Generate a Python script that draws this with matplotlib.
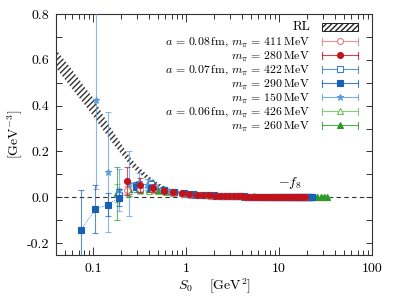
import matplotlib
matplotlib.use("Agg")
import matplotlib.pyplot as plt
from matplotlib.lines import Line2D
from matplotlib.patches import Rectangle
from matplotlib.colors import to_rgba
from matplotlib.ticker import FixedLocator, FuncFormatter, LogLocator, NullFormatter

plt.rcParams['font.family'] = 'serif'
plt.rcParams['font.serif'] = ['cmr10', 'DejaVu Serif']
plt.rcParams['mathtext.fontset'] = 'cm'
plt.rcParams['axes.unicode_minus'] = False
plt.rcParams['axes.formatter.use_mathtext'] = True
plt.rcParams['hatch.linewidth'] = 1.0

# ---------------- data ----------------
# RL band
x_rl = [0.04, 0.06, 0.08, 0.1, 0.13, 0.16, 0.2, 0.25, 0.3, 0.4, 0.5, 0.7, 1.0, 1.5, 2.0, 3.0, 5.0]
rl_hi = [0.645, 0.555, 0.485, 0.435, 0.355, 0.295, 0.235, 0.175, 0.138, 0.092, 0.062, 0.034, 0.018, 0.010, 0.006, 0.003, 0.001]
rl_lo = [0.565, 0.472, 0.408, 0.355, 0.29, 0.24, 0.19, 0.14, 0.11, 0.07, 0.045, 0.024, 0.012, 0.006, 0.003, 0.001, 0.0]

# a = 0.08 fm ensembles
x_080 = [0.23, 0.32, 0.44, 0.58, 0.73, 0.90, 1.09, 1.30, 1.52, 1.77, 2.03, 2.31, 2.60, 2.92,
         3.25, 3.60, 3.97, 4.36, 4.76, 5.19, 5.63, 6.09, 6.57, 7.06, 7.57, 8.11, 8.66, 9.22,
         9.81, 10.4, 11.0, 11.7, 12.3, 13.0, 13.7, 14.4, 15.1, 15.9, 16.7, 17.4, 18.2, 19.1]
y_411 = [0.03, 0.035, 0.033, 0.026, 0.02, 0.016, 0.012, 0.010, 0.0085, 0.0075,
         0.0065, 0.0058, 0.0052, 0.0047, 0.0042, 0.0038, 0.0034, 0.0031, 0.0028, 0.0026,
         0.0024, 0.0022, 0.002, 0.0019, 0.0018, 0.0017, 0.0016, 0.0015, 0.0014, 0.0013,
         0.0012, 0.0012, 0.0011, 0.0011, 0.001, 0.001, 0.0009, 0.0009, 0.0009, 0.0008, 0.0008, 0.0008]
e_411 = [0.02, 0.012, 0.008, 0.006, 0.004, 0.003, 0.003, 0.002, 0.002, 0.002,
         0.001, 0.001, 0.001, 0.001, 0.001, 0.001, 0.001, 0.001, 0.001, 0.001,
         0.001, 0.001, 0.001, 0.001, 0.001, 0.001, 0.001, 0.001, 0.001, 0.001,
         0.001, 0.001, 0.001, 0.001, 0.001, 0.001, 0.001, 0.001, 0.001, 0.001, 0.001, 0.001]
y_280 = [0.072, 0.054, 0.040, 0.029, 0.022, 0.017, 0.013, 0.011, 0.009, 0.008,
         0.007, 0.006, 0.0055, 0.005, 0.0045, 0.004, 0.0036, 0.0033, 0.003, 0.0028,
         0.0026, 0.0024, 0.0022, 0.002, 0.0019, 0.0018, 0.0017, 0.0016, 0.0015, 0.0014,
         0.0013, 0.0012, 0.0012, 0.0011, 0.0011, 0.001, 0.001, 0.0009, 0.0009, 0.0009, 0.0008, 0.0008]
e_280 = [0.062, 0.03, 0.018, 0.012, 0.008, 0.006, 0.004, 0.003, 0.003, 0.002,
         0.002, 0.002, 0.001, 0.001, 0.001, 0.001, 0.001, 0.001, 0.001, 0.001,
         0.001, 0.001, 0.001, 0.001, 0.001, 0.001, 0.001, 0.001, 0.001, 0.001,
         0.001, 0.001, 0.001, 0.001, 0.001, 0.001, 0.001, 0.001, 0.001, 0.001, 0.001, 0.001]

# a = 0.07 fm ensembles
x_422 = [0.189, 0.29, 0.42, 0.58, 0.75, 0.95, 1.18, 1.42, 1.70, 1.99, 2.31, 2.65, 3.01, 3.40,
         3.81, 4.25, 4.71, 5.19, 5.70, 6.23, 6.78, 7.36, 7.96, 8.58, 9.23, 9.90, 10.6, 11.3,
         12.1, 12.8, 13.6, 14.4, 15.3, 16.1, 17.0, 17.9, 18.8, 19.8, 20.8, 21.8, 22.8]
y_422 = [0.01, 0.05, 0.06, 0.032, 0.022, 0.016, 0.012, 0.010, 0.008, 0.007,
         0.006, 0.005, 0.0045, 0.004, 0.0036, 0.0032, 0.003, 0.0027, 0.0025, 0.0023,
         0.0021, 0.002, 0.0018, 0.0017, 0.0016, 0.0015, 0.0014, 0.0013, 0.0013, 0.0012,
         0.0012, 0.0011, 0.0011, 0.001, 0.001, 0.001, 0.0009, 0.0009, 0.0009, 0.0008, 0.0008]
e_422 = [0.02, 0.015, 0.015, 0.007, 0.005, 0.004, 0.003, 0.002, 0.002, 0.001,
         0.001, 0.001, 0.001, 0.001, 0.001, 0.001, 0.001, 0.001, 0.001, 0.001,
         0.001, 0.001, 0.001, 0.001, 0.001, 0.001, 0.001, 0.001, 0.001, 0.001,
         0.001, 0.001, 0.001, 0.001, 0.001, 0.001, 0.001, 0.001, 0.001, 0.001, 0.001]
x_290 = [0.074, 0.106, 0.145, 0.189, 0.29, 0.42, 0.58, 0.75, 0.95, 1.18, 1.42, 1.70, 1.99, 2.31,
         2.65, 3.01, 3.40, 3.81, 4.25, 4.71, 5.19, 5.70, 6.23, 6.78, 7.36, 7.96, 8.58, 9.23,
         9.90, 10.6, 11.3, 12.1, 12.8, 13.6, 14.4, 15.3, 16.1, 17.0, 17.9, 18.8, 19.8, 20.8, 21.8, 22.8]
y_290 = [-0.143, -0.052, -0.032, -0.002, 0.045, 0.040, 0.030, 0.023, 0.017, 0.013,
         0.011, 0.009, 0.008, 0.007, 0.006, 0.005, 0.0045, 0.004, 0.0036, 0.0032,
         0.003, 0.0027, 0.0025, 0.0023, 0.0021, 0.002, 0.0018, 0.0017, 0.0016, 0.0015,
         0.0014, 0.0013, 0.0013, 0.0012, 0.0012, 0.0011, 0.0011, 0.001, 0.001, 0.001,
         0.0009, 0.0009, 0.0009, 0.0008]
e_290 = [0.175, 0.104, 0.05, 0.038, 0.02, 0.012, 0.008, 0.006, 0.004, 0.003,
         0.003, 0.002, 0.002, 0.002, 0.0015, 0.0015, 0.001, 0.001, 0.001, 0.001,
         0.001, 0.001, 0.001, 0.001, 0.001, 0.001, 0.001, 0.001, 0.001, 0.001,
         0.001, 0.001, 0.001, 0.001, 0.001, 0.001, 0.001, 0.001, 0.001, 0.001,
         0.001, 0.001, 0.001, 0.001]
x_150 = [0.108, 0.146, 0.189, 0.245, 0.31, 0.38, 0.46, 0.55, 0.65, 0.76, 0.88, 1.0, 1.15,
         1.3, 1.5, 1.7, 2.0, 2.3, 2.7, 3.1, 3.6, 4.2, 4.9, 5.7, 6.6, 7.6, 8.8, 10.2, 11.8,
         13.6, 15.7, 18.1, 20.9]
y_150 = [0.425, 0.112, 0.03, 0.06, 0.065, 0.055, 0.045, 0.036, 0.029, 0.024,
         0.019, 0.016, 0.013, 0.011, 0.009, 0.008, 0.007, 0.006, 0.005, 0.0045,
         0.004, 0.0035, 0.003, 0.0027, 0.0024, 0.0021, 0.0019, 0.0017, 0.0015, 0.0013,
         0.0012, 0.0011, 0.001]
e_150 = [0.39, 0.262, 0.092, 0.14, 0.04, 0.025, 0.015, 0.01, 0.008, 0.006,
         0.005, 0.004, 0.003, 0.003, 0.002, 0.002, 0.002, 0.0015, 0.0015, 0.001,
         0.001, 0.001, 0.001, 0.001, 0.001, 0.001, 0.001, 0.001, 0.001, 0.001,
         0.001, 0.001, 0.001]

# a = 0.06 fm ensembles
x_060 = [0.18, 0.245, 0.32, 0.405, 0.5, 0.605, 0.72, 0.98, 1.28, 1.62, 2.0, 2.42, 2.88,
         3.38, 3.92, 4.5, 5.45, 6.48, 7.6, 8.82, 10.1, 11.5, 13.0, 14.6, 16.2, 18.0, 19.8,
         21.8, 23.8, 25.9, 28.1, 30.4, 32.8]
y_426 = [0.02, 0.028, 0.03, 0.029, 0.026, 0.022, 0.019, 0.014, 0.011, 0.0085,
         0.007, 0.006, 0.005, 0.0045, 0.004, 0.0035, 0.003, 0.0027, 0.0024, 0.0021,
         0.0019, 0.0017, 0.0015, 0.0014, 0.0013, 0.0012, 0.0011, 0.001, 0.001, 0.0009,
         0.0009, 0.0008, 0.0008]
e_426 = [0.04, 0.025, 0.015, 0.01, 0.007, 0.005, 0.004, 0.003, 0.002, 0.002,
         0.002, 0.001, 0.001, 0.001, 0.001, 0.001, 0.001, 0.001, 0.001, 0.001,
         0.001, 0.001, 0.001, 0.001, 0.001, 0.001, 0.001, 0.001, 0.001, 0.001,
         0.001, 0.001, 0.001]
y_260 = [0.017, 0.035, 0.04, 0.038, 0.033, 0.028, 0.024, 0.017, 0.013, 0.010,
         0.008, 0.007, 0.006, 0.005, 0.0045, 0.004, 0.0035, 0.003, 0.0027, 0.0024,
         0.0021, 0.0019, 0.0017, 0.0015, 0.0014, 0.0013, 0.0012, 0.0011, 0.001, 0.001,
         0.0009, 0.0009, 0.0008]
e_260 = [0.115, 0.03, 0.02, 0.012, 0.008, 0.006, 0.005, 0.004, 0.003, 0.002,
         0.002, 0.002, 0.0015, 0.0015, 0.001, 0.001, 0.001, 0.001, 0.001, 0.001,
         0.001, 0.001, 0.001, 0.001, 0.001, 0.001, 0.001, 0.001, 0.001, 0.001,
         0.001, 0.001, 0.001]

labels = [
    "RL",
    r"$a\,=\,0.08\,\mathrm{fm},\, m_\pi\,=\,411\,\mathrm{MeV}$",
    r"$m_\pi\,=\,280\,\mathrm{MeV}$",
    r"$a\,=\,0.07\,\mathrm{fm},\, m_\pi\,=\,422\,\mathrm{MeV}$",
    r"$m_\pi\,=\,290\,\mathrm{MeV}$",
    r"$m_\pi\,=\,150\,\mathrm{MeV}$",
    r"$a\,=\,0.06\,\mathrm{fm},\, m_\pi\,=\,426\,\mathrm{MeV}$",
    r"$m_\pi\,=\,260\,\mathrm{MeV}$",
]
y_ticks = [-0.2, 0.0, 0.2, 0.4, 0.6, 0.8]

# ---------------- styling ----------------
c411 = '#e07b80'
c280 = '#c0141c'
c422 = '#3a7dcc'
c290 = '#1660b8'
c150 = '#5b9be0'
c426 = '#6cbf5c'
c260 = '#2e9a2a'

W, H = 393, 296
fig = plt.figure(figsize=(W / 100, H / 100), dpi=100)
ax = fig.add_axes([56 / W, 41 / H, 316 / W, 241 / H])
ax.set_xscale('log')
ax.set_xlim(0.04, 100)
ax.set_ylim(-0.252, 0.8)

ax.axhline(0.0, color='#333333', lw=0.8, dashes=(4, 3), zorder=1)

ax.fill_between(x_rl, rl_lo, rl_hi, facecolor='white', edgecolor='#333333',
                hatch='//////', linewidth=0.0, zorder=2)

ms = 4.3
series = [
    (x_060, y_426, e_426, c426, '^', False, 3, 'none', ms),
    (x_060, y_260, e_260, c260, '^', True, 4, 'none', ms),
    (x_422, y_422, e_422, c422, 's', False, 5, 'none', 3.8),
    (x_150, y_150, e_150, c150, '*', True, 6, 'none', 5.0),
    (x_290, y_290, e_290, c290, 's', True, 7, ':', 3.8),
    (x_080, y_411, e_411, c411, 'o', False, 8, 'none', ms),
    (x_080, y_280, e_280, c280, 'o', True, 9, 'none', ms),
]
for x, y, e, color, marker, filled, z, ls, msz in series:
    ax.errorbar(x, y, yerr=e, color=color, ecolor=to_rgba(color, 0.7), elinewidth=0.8,
                capsize=2.5, capthick=0.8, marker=marker, ms=msz, ls=ls, lw=0.6,
                mfc=color if filled else 'white', mec=color, mew=0.8, zorder=z)

ax.text(13, 0.062, r"$-f_8$", fontsize=10, ha='center', va='center')

# ---------------- legend (drawn manually in figure pixels) ----------------
def fx(px):
    return px / W

def fy(py):
    return 1 - py / H

legend_items = [
    None,
    (c411, 'o', False, ms),
    (c280, 'o', True, ms),
    (c422, 's', False, 3.8),
    (c290, 's', True, 3.8),
    (c150, '*', True, 5.0),
    (c426, '^', False, ms),
    (c260, '^', True, ms),
]
row0, dy = 27, 14
hx0, hx1 = 322, 358
for i, (lab, item) in enumerate(zip(labels, legend_items)):
    py = row0 + dy * i
    fig.text(fx(310), fy(py + 3.5), lab, fontsize=8.5 if i else 9.5, ha='right', va='baseline')
    if item is None:
        fig.patches.append(Rectangle((fx(hx0), fy(py + 4)), fx(hx1 - hx0), (8 / H),
                                     transform=fig.transFigure, facecolor='white',
                                     edgecolor='#222222', hatch='//////', lw=0.7))
    else:
        color, marker, filled, msz = item
        ec = to_rgba(color, 0.8)
        arts = [Line2D([fx(hx0), fx(hx1)], [fy(py), fy(py)], color=ec, lw=0.8),
                Line2D([fx(hx0), fx(hx0)], [fy(py - 3.5), fy(py + 3.5)], color=ec, lw=0.8),
                Line2D([fx(hx1), fx(hx1)], [fy(py - 3.5), fy(py + 3.5)], color=ec, lw=0.8),
                Line2D([fx((hx0 + hx1) / 2)], [fy(py)], marker=marker, ms=msz,
                       mfc=color if filled else 'white', mec=color, mew=0.8, ls='none')]
        for a in arts:
            a.set_transform(fig.transFigure)
            fig.lines.append(a)

# ---------------- axes ----------------
ax.yaxis.set_major_locator(FixedLocator(y_ticks))
ax.yaxis.set_minor_locator(FixedLocator([-0.1, 0.1, 0.3, 0.5, 0.7]))
ax.yaxis.set_major_formatter(FuncFormatter(lambda v, p: "%.1f" % v))
ax.xaxis.set_major_locator(FixedLocator([0.1, 1, 10, 100]))
ax.xaxis.set_major_formatter(FuncFormatter(lambda v, p: ("%g" % v)))
ax.xaxis.set_minor_locator(LogLocator(base=10, subs=[2, 3, 4, 5, 6, 7, 8, 9], numticks=20))
ax.xaxis.set_minor_formatter(NullFormatter())
ax.tick_params(which='both', direction='in', top=True, right=True, labelsize=10,
               width=0.7, color='#333333')
ax.tick_params(axis='x', which='major', length=6, pad=6)
ax.tick_params(axis='x', which='minor', length=3.5)
ax.tick_params(axis='y', which='both', length=4.5, pad=5)
for s in ax.spines.values():
    s.set_linewidth(0.8)
    s.set_color('#333333')

ax.set_ylabel(r"[GeV$^{-3}$]", fontsize=10, labelpad=1)
ax.set_xlabel(r"$S_0\quad$ [GeV$^2$]", fontsize=10, labelpad=1)

fig.savefig("out.png", dpi=100)
